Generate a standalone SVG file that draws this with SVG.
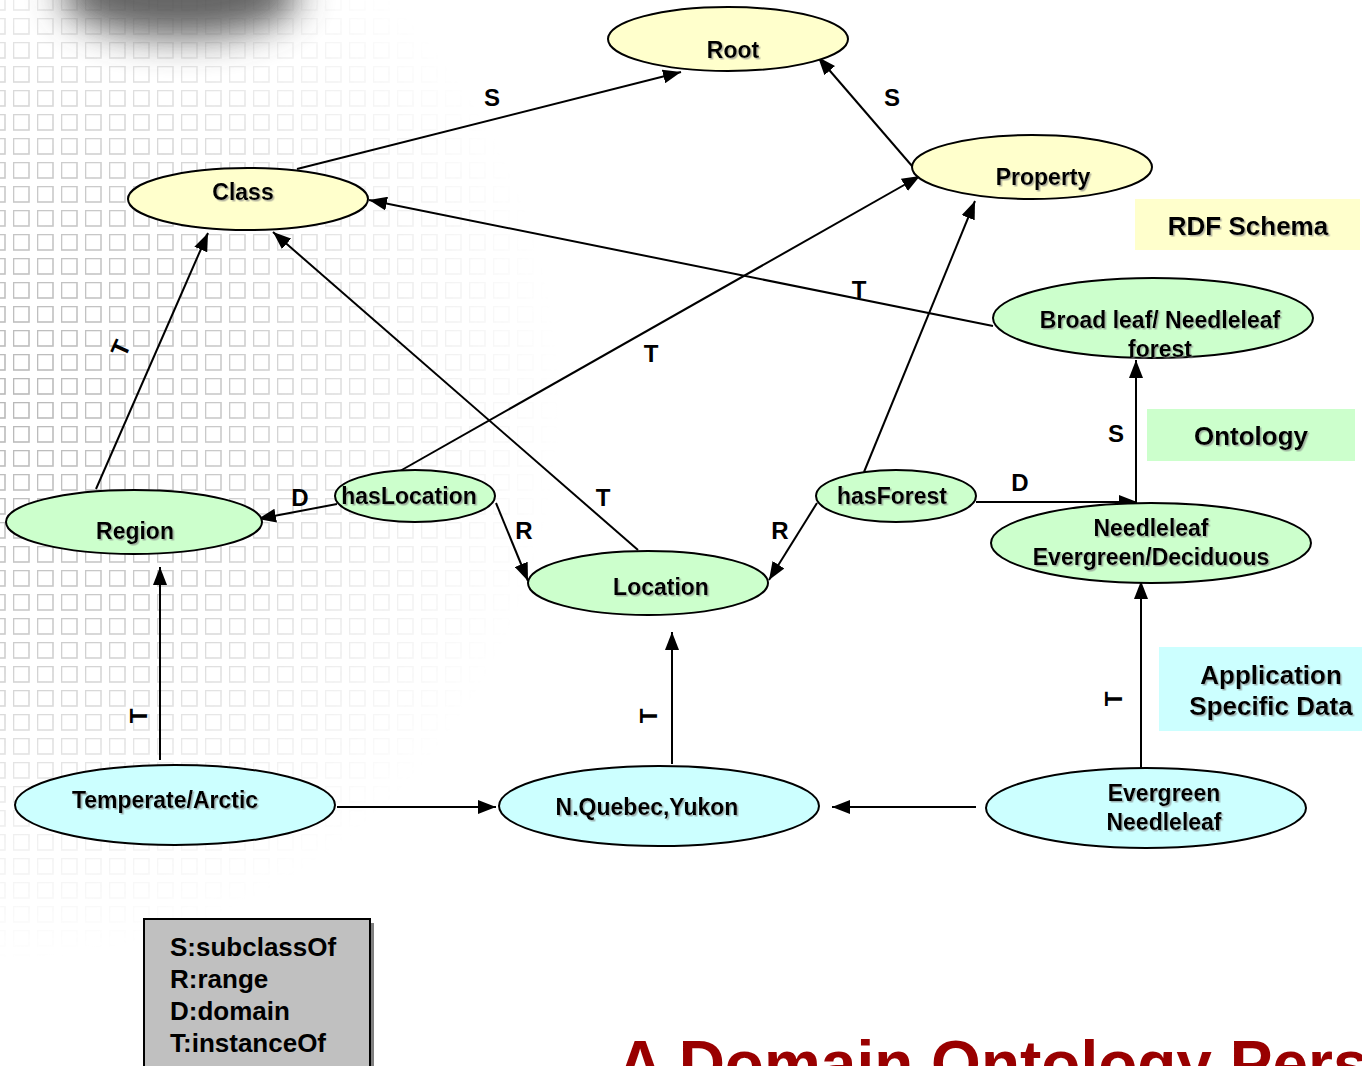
<svg xmlns="http://www.w3.org/2000/svg" width="1362" height="1066" viewBox="0 0 1362 1066">
  <defs>
    <style>
      .node { stroke: #000; stroke-width: 2; }
      .yellow { fill: #ffffcc; }
      .green { fill: #ccffcc; }
      .cyan { fill: #ccffff; }
      .lbl { font-family: "Liberation Sans", Arial, sans-serif; font-weight: bold; font-size: 23px; fill: #000; text-anchor: middle; filter: url(#shadow); }
      .tag { font-family: "Liberation Sans", Arial, sans-serif; font-weight: bold; font-size: 26px; fill: #000; text-anchor: middle; filter: url(#shadow); }
      .edge-lbl { font-family: "Liberation Sans", Arial, sans-serif; font-weight: bold; font-size: 24px; fill: #000; text-anchor: middle; }
      .edge { stroke: #000; stroke-width: 2; fill: none; marker-end: url(#arrow); }
      .legend-txt { font-family: "Liberation Sans", Arial, sans-serif; font-weight: bold; font-size: 26px; fill: #000; }
    </style>
    <marker id="arrow" viewBox="0 0 18 14" refX="18" refY="7" markerWidth="18" markerHeight="14" markerUnits="userSpaceOnUse" orient="auto">
      <path d="M0,0 L18,7 L0,14 z" fill="#000"/>
    </marker>
    <filter id="shadow" x="-10%" y="-20%" width="130%" height="150%">
      <feDropShadow dx="1.5" dy="1.5" stdDeviation="0.6" flood-color="#808080" flood-opacity="0.6"/>
    </filter>
    <filter id="blur" x="-50%" y="-100%" width="200%" height="300%">
      <feGaussianBlur stdDeviation="18"/>
    </filter>
    <pattern id="grid" x="13" y="18" width="24" height="24" patternUnits="userSpaceOnUse">
      <rect x="0.5" y="0.5" width="15.5" height="15.5" fill="none" stroke="#b4b4b4" stroke-width="1.6"/>
    </pattern>
    <radialGradient id="fade" cx="0" cy="400" r="660" gradientUnits="userSpaceOnUse">
      <stop offset="0" stop-color="#fff" stop-opacity="0.95"/>
      <stop offset="0.35" stop-color="#fff" stop-opacity="0.7"/>
      <stop offset="0.62" stop-color="#fff" stop-opacity="0.25"/>
      <stop offset="0.85" stop-color="#fff" stop-opacity="0"/>
    </radialGradient>
    <mask id="gridMask">
      <rect width="1362" height="1066" fill="url(#fade)"/>
    </mask>
  </defs>

  <!-- backdrop -->
  <rect width="1362" height="1066" fill="#fff"/>
  <rect width="1362" height="1066" fill="url(#grid)" mask="url(#gridMask)"/>
  <ellipse cx="180" cy="-6" rx="120" ry="44" fill="#4a4a4a" opacity="0.85" filter="url(#blur)"/>

  <!-- layer captions -->
  <g id="rdf-schema">
    <rect x="1135" y="199" width="225" height="51" fill="#ffffcc"/>
    <text class="tag" x="1248" y="235">RDF Schema</text>
  </g>
  <g id="ontology">
    <rect x="1147" y="409" width="208" height="52" fill="#ccffcc"/>
    <text class="tag" x="1251" y="445">Ontology</text>
  </g>
  <g id="app-data">
    <rect x="1159" y="647" width="203" height="84" fill="#ccffff"/>
    <text class="tag" x="1271" y="684">Application</text>
    <text class="tag" x="1271" y="715">Specific Data</text>
  </g>

  <!-- connectors -->
  <g id="connectors">
    <line class="edge" x1="297" y1="169" x2="681" y2="72"/>
    <line class="edge" x1="912" y1="166" x2="818" y2="57"/>
    <line class="edge" x1="993" y1="326" x2="369" y2="200"/>
    <line class="edge" x1="400" y1="471" x2="920" y2="176"/>
    <line class="edge" x1="638" y1="550" x2="273" y2="232"/>
    <line class="edge" x1="96" y1="489" x2="208" y2="233"/>
    <line class="edge" x1="337" y1="504" x2="258" y2="519"/>
    <line class="edge" x1="496" y1="503" x2="528" y2="581"/>
    <line class="edge" x1="817" y1="503" x2="769" y2="580"/>
    <line class="edge" x1="864" y1="472" x2="975" y2="201"/>
    <line class="edge" x1="976" y1="502" x2="1137" y2="502"/>
    <line class="edge" x1="1136" y1="503" x2="1136" y2="360"/>
    <line class="edge" x1="160" y1="760" x2="160" y2="567"/>
    <line class="edge" x1="672" y1="764" x2="672" y2="632"/>
    <line class="edge" x1="1141" y1="770" x2="1141" y2="581"/>
    <line class="edge" x1="337" y1="807" x2="496" y2="807"/>
    <line class="edge" x1="976" y1="807" x2="832" y2="807"/>

    <text class="edge-lbl" x="492" y="106">S</text>
    <text class="edge-lbl" x="892" y="106">S</text>
    <text class="edge-lbl" x="859" y="298">T</text>
    <text class="edge-lbl" x="651" y="362">T</text>
    <text class="edge-lbl" x="603" y="506">T</text>
    <text class="edge-lbl" transform="translate(120 348) rotate(-66)" x="0" y="9">T</text>
    <text class="edge-lbl" x="300" y="506">D</text>
    <text class="edge-lbl" x="524" y="539">R</text>
    <text class="edge-lbl" x="780" y="539">R</text>
    <text class="edge-lbl" x="1020" y="491">D</text>
    <text class="edge-lbl" x="1116" y="442">S</text>
    <text class="edge-lbl" transform="translate(138 716) rotate(-90)" x="0" y="9">T</text>
    <text class="edge-lbl" transform="translate(648 716) rotate(-90)" x="0" y="9">T</text>
    <text class="edge-lbl" transform="translate(1113 699) rotate(-90)" x="0" y="9">T</text>
  </g>

  <!-- nodes -->
  <g id="root">
    <ellipse class="node yellow" cx="728" cy="39" rx="120" ry="32"/>
    <text class="lbl" x="733" y="58">Root</text>
  </g>
  <g id="class">
    <ellipse class="node yellow" cx="248" cy="199" rx="120" ry="31"/>
    <text class="lbl" x="243" y="200">Class</text>
  </g>
  <g id="property">
    <ellipse class="node yellow" cx="1032" cy="167" rx="120" ry="32"/>
    <text class="lbl" x="1043" y="185">Property</text>
  </g>
  <g id="broadleaf-needleleaf-forest">
    <ellipse class="node green" cx="1153" cy="318" rx="160" ry="40"/>
    <text class="lbl" x="1160" y="328">Broad leaf/ Needleleaf</text>
    <text class="lbl" x="1160" y="357">forest</text>
  </g>
  <g id="region">
    <ellipse class="node green" cx="134" cy="522" rx="128" ry="32"/>
    <text class="lbl" x="135" y="539">Region</text>
  </g>
  <g id="has-location">
    <ellipse class="node green" cx="415" cy="496" rx="80" ry="26"/>
    <text class="lbl" x="409" y="504">hasLocation</text>
  </g>
  <g id="location">
    <ellipse class="node green" cx="648" cy="583" rx="120" ry="32"/>
    <text class="lbl" x="661" y="595">Location</text>
  </g>
  <g id="has-forest">
    <ellipse class="node green" cx="896" cy="496" rx="80" ry="26"/>
    <text class="lbl" x="892" y="504">hasForest</text>
  </g>
  <g id="needleleaf-evergreen-deciduous">
    <ellipse class="node green" cx="1151" cy="543" rx="160" ry="40"/>
    <text class="lbl" x="1151" y="536">Needleleaf</text>
    <text class="lbl" x="1151" y="565">Evergreen/Deciduous</text>
  </g>
  <g id="temperate-arctic">
    <ellipse class="node cyan" cx="175" cy="805" rx="160" ry="40"/>
    <text class="lbl" x="165" y="808">Temperate/Arctic</text>
  </g>
  <g id="nquebec-yukon">
    <ellipse class="node cyan" cx="659" cy="806" rx="160" ry="40"/>
    <text class="lbl" x="647" y="815">N.Quebec,Yukon</text>
  </g>
  <g id="evergreen-needleleaf">
    <ellipse class="node cyan" cx="1146" cy="808" rx="160" ry="40"/>
    <text class="lbl" x="1164" y="801">Evergreen</text>
    <text class="lbl" x="1164" y="830">Needleleaf</text>
  </g>

  <!-- legend -->
  <g id="legend">
    <rect x="148" y="923" width="226" height="150" fill="#808080"/>
    <rect x="144" y="919" width="226" height="150" fill="#c0c0c0" stroke="#000" stroke-width="2"/>
    <text class="legend-txt" x="170" y="956">S:subclassOf</text>
    <text class="legend-txt" x="170" y="988">R:range</text>
    <text class="legend-txt" x="170" y="1020">D:domain</text>
    <text class="legend-txt" x="170" y="1052">T:instanceOf</text>
  </g>

  <!-- title, running past the lower edge -->
  <text x="617" y="1086" font-family="Liberation Sans, Arial, sans-serif" font-weight="bold" font-size="64" fill="#990000">A Domain Ontology Pers</text>
</svg>
